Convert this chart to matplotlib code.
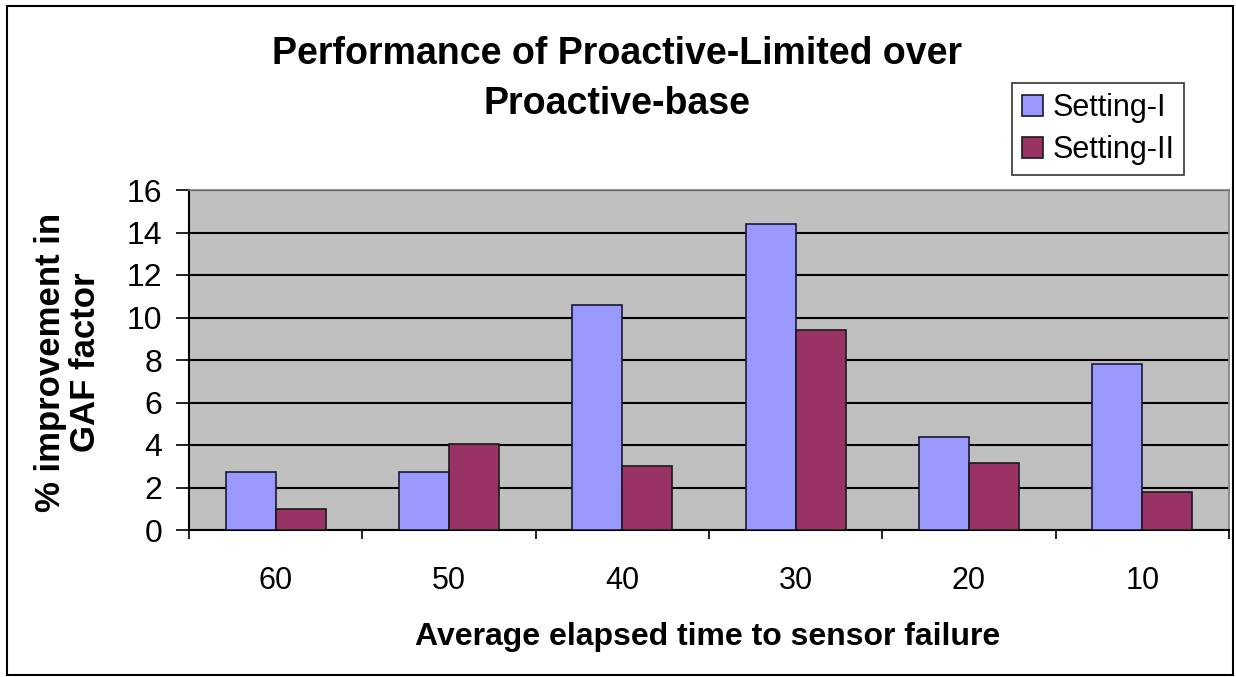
import matplotlib
matplotlib.use("Agg")
import matplotlib.pyplot as plt
import numpy as np
from matplotlib.patches import Rectangle

plt.rcParams['font.family'] = ['Liberation Sans', 'DejaVu Sans']

categories = ["60", "50", "40", "30", "20", "10"]
setting_1 = [2.73, 2.73, 10.57, 14.42, 4.39, 7.82]
setting_2 = [1.0, 4.03, 3.01, 9.40, 3.16, 1.78]
series_names = ["Setting-I", "Setting-II"]
y_ticks = [0, 2, 4, 6, 8, 10, 12, 14, 16]

W, H = 1236, 677
fig = plt.figure(figsize=(W / 100, H / 100), dpi=100)
fig.patch.set_facecolor("white")

# outer chart border
fig.patches.append(Rectangle((7 / W, 1 - 675 / H), (1233 - 7) / W, (675 - 6) / H,
                             transform=fig.transFigure, fill=False,
                             edgecolor="black", linewidth=1.5, zorder=0))

left, right, top, bottom = 189, 1229, 190, 530
ax = fig.add_axes([left / W, 1 - bottom / H, (right - left) / W, (bottom - top) / H])
ax.set_facecolor("#C0C0C0")

x = np.arange(len(categories))
bw = 0.288
ax.bar(x - bw / 2, setting_1, width=bw, color="#9999FF", edgecolor="#1a1a33",
       linewidth=1.2, label=series_names[0], zorder=3)
ax.bar(x + bw / 2, setting_2, width=bw, color="#993366", edgecolor="#1a1a1a",
       linewidth=1.2, label=series_names[1], zorder=3)

ax.set_xlim(-0.5, len(categories) - 0.5)
ax.set_ylim(0, 16)
ax.set_yticks(y_ticks)
ax.set_yticklabels([str(v) for v in y_ticks], fontsize=23)
ax.yaxis.grid(True, color="black", linewidth=1.5, zorder=1)
ax.set_axisbelow(True)

# category labels centered, tick marks between categories
ax.set_xticks(x)
ax.set_xticklabels(categories, fontsize=22)
ax.tick_params(axis="x", which="major", length=0, pad=26)
ax.set_xticks(np.arange(len(categories) + 1) - 0.5, minor=True)
ax.tick_params(axis="x", which="minor", length=6.5, width=1.2, direction="out", color="black")
ax.tick_params(axis="y", length=9.4, width=1.2, direction="out", pad=10)

for s in ["left", "bottom"]:
    ax.spines[s].set_color("black")
    ax.spines[s].set_linewidth(1.5)
for s in ["top", "right"]:
    ax.spines[s].set_color("#808080")
    ax.spines[s].set_linewidth(1.2)

fig.text(708 / W, 1 - 637 / H, "Average elapsed time to sensor failure", ha="center",
         va="center", fontsize=23, fontweight="bold")
fig.text(68 / W, 1 - 362 / H, "% improvement in\nGAF factor", ha="center", va="center",
         rotation=90, fontsize=25, fontweight="bold", linespacing=1.05,
         multialignment="center")

fig.text(617 / W, 1 - 54 / H, "Performance of Proactive-Limited over", ha="center",
         va="center", fontsize=27, fontweight="bold")
fig.text(617 / W, 1 - 104 / H, "Proactive-base", ha="center", va="center",
         fontsize=27, fontweight="bold")

leg = fig.legend(loc="upper left", bbox_to_anchor=(1012 / W, 1 - 83 / H),
                 bbox_transform=fig.transFigure, fontsize=22, frameon=True,
                 fancybox=False, edgecolor="black", handlelength=0.68,
                 handleheight=0.68, handletextpad=0.32, borderpad=0.32,
                 labelspacing=0.4, borderaxespad=0)
leg.get_frame().set_linewidth(1.2)

fig.savefig("out.png", dpi=100)
